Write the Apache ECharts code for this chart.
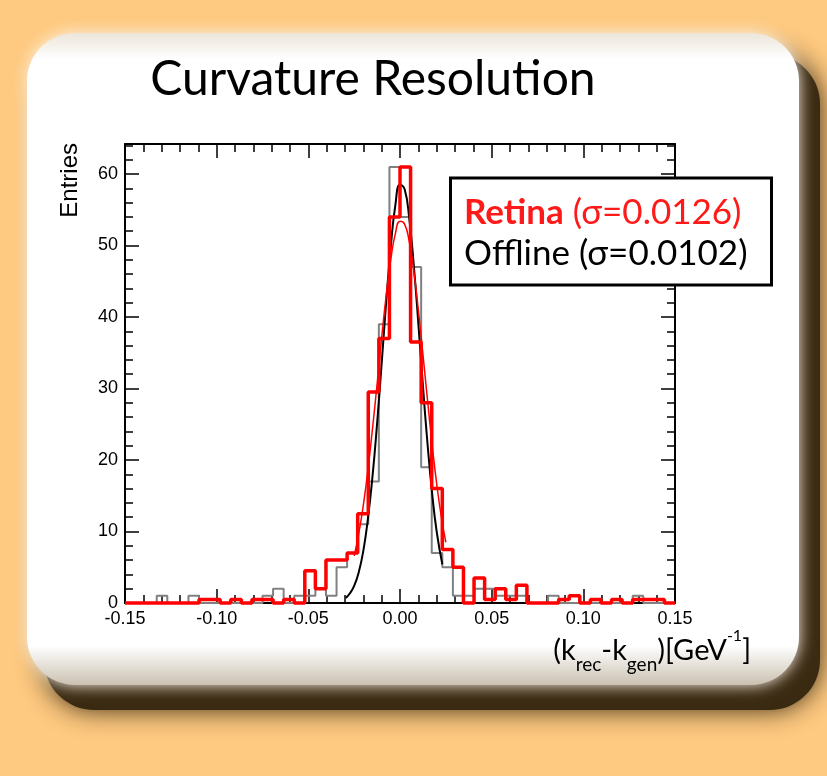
<!DOCTYPE html>
<html>
<head>
<meta charset="utf-8">
<script src="https://cdn.jsdelivr.net/npm/echarts/dist/echarts.min.js"></script>
<style>
  html, body { margin: 0; padding: 0; background: #fec980; }
  #main { width: 827px; height: 776px; }
</style>
</head>
<body>
<div id="main"></div>
<script>
// histogram binning: 52 bins over [-0.15, 0.15]
const xMin = -0.15;
const xMax = 0.15;
const nBins = 52;

// entries per bin
const offline = [
  0, 0, 0, 1, 0, 0, 1, 0, 0, 0, 0, 0, 0, 1, 2, 0, 1, 1, 2, 1,
  5, 7, 11, 17, 39, 61, 54, 47, 19, 7, 5, 1, 1, 2, 2, 1, 1, 1, 0, 0,
  1, 0, 0, 0, 0, 0, 0, 0, 1, 0, 0, 0
];
const retina = [
  0, 0, 0, 0, 0, 0, 0, 0.5, 0.5, 0, 0.5, 0, 0.5, 0.5, 0, 0.5, 0, 4.5, 2, 6,
  6, 7, 12.5, 29.5, 37, 54, 61, 36.5, 28, 16, 7.5, 5, 0, 3.5, 0.5, 2, 0.5, 2.5, 0, 0,
  0, 0.5, 1, 0, 0.5, 0, 0.5, 0, 0.5, 0.5, 0.5, 0
];

// fitted curves
const offlineFitX = [-0.0296, -0.0275, -0.025, -0.0225, -0.02, -0.0175, -0.015, -0.0125, -0.01, -0.0075, -0.005, -0.0025,
  0, 0.0025, 0.005, 0.0075, 0.01, 0.0125, 0.015, 0.0175, 0.02, 0.0231];
const offlineFitY = [0.7, 1.3, 2.4, 4.3, 7.3, 11.8, 17.7, 25.1, 33.5, 42.2, 49.9, 55.7,
  58.5, 57.9, 53.9, 47.3, 39.1, 30.4, 22.3, 15.4, 10.0, 5.4];
const retinaFitX = [-0.025, -0.0225, -0.02, -0.0175, -0.015, -0.0125, -0.01, -0.0075, -0.005, -0.0025, 0,
  0.0025, 0.005, 0.0075, 0.01, 0.0125, 0.015, 0.0175, 0.02, 0.0225, 0.025];
const retinaFitY = [6.6, 9.7, 13.7, 18.6, 24.4, 30.6, 37.1, 43.1, 48.1, 51.7, 53.4,
  53.0, 50.6, 46.5, 41.0, 34.8, 28.4, 22.2, 16.7, 12.1, 8.5];

const yTicks = ['0', '10', '20', '30', '40', '50', '60'];

// step data: left edge of each bin, plus closing point at the right edge
function histData(vals) {
  const w = (xMax - xMin) / nBins;
  const out = vals.map((v, i) => [xMin + i * w, v]);
  out.push([xMax, vals[vals.length - 1]]);
  return out;
}
function pairs(xs, ys) {
  return xs.map((x, i) => [x, ys[i]]);
}

const chart = echarts.init(document.getElementById('main'));
const textFont = 'Lato, "Noto Sans", sans-serif';
const axisFont = '"Liberation Sans", Arial, sans-serif';

const majorTick = { show: true, inside: true, length: 14, lineStyle: { color: '#000', width: 1.5 } };
const minorTickStyle = { show: true, inside: true, length: 8, lineStyle: { color: '#000', width: 1.5 } };

function xAx(position, interval, major, labels) {
  return {
    type: 'value', position: position, min: xMin, max: xMax, interval: interval,
    axisLine: { show: major, onZero: false, lineStyle: { color: '#000', width: 2 } },
    axisTick: major ? majorTick : minorTickStyle,
    axisLabel: labels ? {
      show: true, color: '#000', fontFamily: axisFont, fontSize: 18, margin: 7,
      formatter: v => v.toFixed(2)
    } : { show: false },
    splitLine: { show: false }
  };
}
function yAx(position, interval, major, labels) {
  return {
    type: 'value', position: position, min: 0, max: 64.2, interval: interval,
    axisLine: { show: major, onZero: false, lineStyle: { color: '#000', width: 2 } },
    axisTick: major ? majorTick : minorTickStyle,
    axisLabel: labels ? {
      show: true, color: '#000', fontFamily: axisFont, fontSize: 18, margin: 7,
      showMaxLabel: false,
      formatter: v => (yTicks.indexOf(String(v)) >= 0 ? String(v) : '')
    } : { show: false },
    splitLine: { show: false }
  };
}

const option = {
  animation: false,
  backgroundColor: '#fec980',
  grid: { left: 125, top: 144, width: 550, height: 459, show: true, backgroundColor: '#fff', borderWidth: 0 },
  xAxis: [
    xAx('bottom', 0.05, true, true),
    xAx('bottom', 0.01, false, false),
    xAx('top', 0.05, true, false),
    xAx('top', 0.01, false, false)
  ],
  yAxis: [
    yAx('left', 10, true, true),
    yAx('left', 2, false, false),
    yAx('right', 10, true, false),
    yAx('right', 2, false, false)
  ],
  graphic: [
    // card with its dark drop shadow
    {
      type: 'rect', z: -10,
      shape: { x: 44, y: 54, width: 776, height: 656, r: 50 },
      style: { fill: '#3b2a12', shadowBlur: 26, shadowColor: 'rgba(50,35,14,0.95)' }
    },
    {
      type: 'rect', z: -9,
      shape: { x: 27, y: 33, width: 772, height: 652, r: 48 },
      style: {
        fill: new echarts.graphic.LinearGradient(0, 0, 0, 1, [
          { offset: 0, color: '#ece5d9' },
          { offset: 0.04, color: '#ffffff' },
          { offset: 0.94, color: '#ffffff' },
          { offset: 1, color: '#cbc1b1' }
        ]),
        shadowBlur: 16, shadowColor: 'rgba(255,246,232,1)'
      }
    },
    // title
    {
      type: 'text', x: 373, y: 80, z: 10,
      style: { text: 'Curvature Resolution', font: '48px ' + textFont, fill: '#000', align: 'center', verticalAlign: 'middle' }
    },
    // y axis title
    {
      type: 'text', x: 70, y: 143, rotation: Math.PI / 2, z: 10,
      style: { text: 'Entries', font: '24px ' + axisFont, fill: '#000', align: 'right', verticalAlign: 'middle' }
    },
    // x axis title
    {
      type: 'text', x: 751, y: 628, z: 10,
      style: {
        text: '{m|(k}{s|rec}{m|-k}{s|gen}{m|)[GeV}{p|-1}{m|]}',
        align: 'right', verticalAlign: 'top', fill: '#000',
        rich: {
          m: { fontFamily: textFont, fontSize: 29, lineHeight: 46, verticalAlign: 'middle', fill: '#000' },
          s: { fontFamily: textFont, fontSize: 19, lineHeight: 28, verticalAlign: 'bottom', fill: '#000' },
          p: { fontFamily: textFont, fontSize: 16, lineHeight: 34, verticalAlign: 'top', fill: '#000' }
        }
      }
    },
    // legend box
    {
      type: 'rect', z: 100,
      shape: { x: 450.5, y: 178, width: 321, height: 107 },
      style: { fill: '#fff', stroke: '#000', lineWidth: 3 }
    },
    {
      type: 'text', x: 464, y: 212.5, z: 101,
      style: {
        text: '{b|Retina}{n| (σ=0.0126)}', verticalAlign: 'middle', align: 'left',
        rich: {
          b: { fontFamily: textFont, fontSize: 35, fontWeight: 'bold', fill: '#ff1a1a' },
          n: { fontFamily: textFont, fontSize: 35, fill: '#ff1a1a' }
        }
      }
    },
    {
      type: 'text', x: 464, y: 253.5, z: 101,
      style: { text: 'Offline (σ=0.0102)', font: '35px ' + textFont, fill: '#000', align: 'left', verticalAlign: 'middle' }
    }
  ],
  series: [
    {
      name: 'Offline', type: 'line', step: 'end', data: histData(offline),
      symbol: 'none', clip: false, z: 2,
      lineStyle: { color: '#808080', width: 2 }
    },
    {
      name: 'Offline fit', type: 'line', smooth: true, data: pairs(offlineFitX, offlineFitY),
      symbol: 'none', z: 3,
      lineStyle: { color: '#000', width: 2 }
    },
    {
      name: 'Retina', type: 'line', step: 'end', data: histData(retina),
      symbol: 'none', clip: false, z: 4,
      lineStyle: { color: '#ff0000', width: 3.5 }
    },
    {
      name: 'Retina fit', type: 'line', smooth: true, data: pairs(retinaFitX, retinaFitY),
      symbol: 'none', z: 5,
      lineStyle: { color: '#ff0000', width: 1.5 }
    }
  ]
};

chart.setOption(option);
</script>
</body>
</html>
